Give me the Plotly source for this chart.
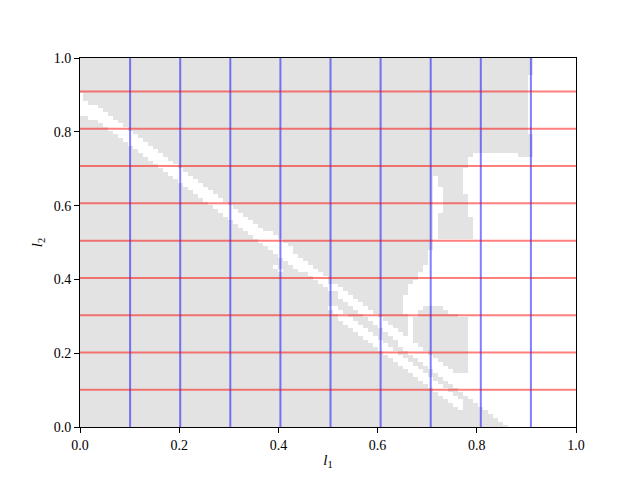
import numpy as np
import plotly.graph_objects as go

N = 100
grid = np.linspace(0, 1, N)

# ---- main diagonal white band: for each column index, white rows [lo, hi]
band_cols = list(range(0, 66))
band_lo = [84, 84, 83, 83, 82, 81, 80, 79, 78, 77,
           76, 75, 74, 73, 72, 71, 70, 69, 68, 67,
           66, 65, 64, 63, 62, 61, 60, 59, 58, 57,
           56, 55, 54, 53, 52, 51, 50, 49, 48, 47,
           46, 45, 44, 43, 42, 42, 41, 40, 39, 38,
           37, 37, 35, 34, 33, 32, 31, 30, 29, 28,
           27, 26, 25, 24, 23, 22]
band_hi = [89, 87, 86, 86, 85, 84, 83, 82, 81, 80,
           79, 78, 77, 76, 75, 74, 73, 72, 71, 70,
           69, 68, 67, 66, 65, 64, 63, 62, 61, 60,
           59, 58, 57, 56, 55, 54, 53, 52, 52, 51,
           50, 49, 48, 46, 45, 44, 43, 42, 41, 40,
           38, 38, 37, 36, 35, 34, 33, 32, 31, 30,
           29, 28, 27, 26, 25, 24]

# ---- lower white band (columns, white rows [lo, hi])
lower_cols = [39, 40, 50, 51, 52, 53, 54, 55, 56, 57, 58, 59, 60, 61, 62, 63,
              64, 65, 66, 67, 68, 69, 70, 71, 72, 73, 74, 75, 76]
lower_lo = [43, 42, 32, 31, 29, 28, 27, 26, 25, 24, 23, 22, 21, 20, 19, 18,
            17, 16, 15, 14, 13, 12, 11, 10, 9, 8, 7, 6, 5]
lower_hi = [43, 42, 32, 32, 31, 30, 29, 28, 27, 26, 25, 24, 23, 22, 21, 20,
            19, 18, 17, 16, 15, 14, 13, 12, 11, 10, 9, 8, 7]

# ---- right-hand white region: per row (bottom to top), white column intervals
right_rows = [
    [[86, 99]], [[85, 99]], [[84, 99]], [[83, 99]], [[82, 99]],          # 0-4
    [[81, 99]], [[80, 99]], [[79, 99]], [[78, 99]], [[77, 99]],          # 5-9
    [[76, 99]], [[75, 99]], [[74, 99]], [[73, 99]], [[72, 99]],          # 10-14
    [[71, 74], [78, 99]], [[70, 73], [78, 99]], [[69, 72], [78, 99]],    # 15-17
    [[68, 71], [78, 99]], [[67, 70], [78, 99]], [[66, 69], [78, 99]],    # 18-20
    [[65, 68], [78, 99]], [[64, 67], [78, 99]],                          # 21-22
    [[66, 66], [78, 99]], [[66, 66], [78, 99]], [[66, 66], [78, 99]],    # 23-25
    [[66, 66], [78, 99]], [[66, 66], [78, 99]], [[66, 66], [78, 99]],    # 26-28
    [[66, 66], [78, 99]], [[66, 67], [76, 99]], [[65, 67], [74, 99]],    # 29-31
    [[65, 68], [73, 99]], [[65, 99]], [[65, 99]], [[65, 99]],            # 32-35
    [[66, 99]], [[66, 99]], [[66, 99]], [[67, 99]],                      # 36-39
    [[68, 99]], [[68, 99]], [[69, 99]], [[69, 99]],                      # 40-43
    [[70, 99]], [[70, 99]], [[70, 99]], [[70, 99]],                      # 44-47
    [[71, 99]], [[71, 99]], [[71, 99]],                                  # 48-50
    [[71, 71], [79, 99]], [[71, 71], [79, 99]], [[71, 71], [79, 99]],    # 51-53
    [[71, 71], [79, 99]], [[71, 71], [79, 99]], [[71, 71], [79, 99]],    # 54-56
    [[71, 71], [78, 99]],                                                # 57
    [[71, 72], [78, 99]], [[71, 72], [78, 99]], [[71, 72], [78, 99]],    # 58-60
    [[71, 72], [78, 99]], [[71, 72], [78, 99]],                          # 61-62
    [[71, 72], [77, 99]], [[71, 72], [77, 99]],                          # 63-64
    [[71, 71], [77, 99]], [[71, 71], [77, 99]], [[71, 71], [77, 99]],    # 65-67
    [[77, 99]], [[77, 99]],                                              # 68-69
    [[78, 99]], [[78, 99]], [[78, 99]],                                  # 70-72
    [[79, 87], [91, 99]],                                                # 73
    [[91, 99]], [[91, 99]], [[91, 99]], [[91, 99]], [[91, 99]],          # 74-78
    [[90, 99]], [[90, 99]], [[90, 99]], [[90, 99]], [[90, 99]],          # 79-83
    [[90, 99]], [[90, 99]], [[90, 99]], [[90, 99]], [[90, 99]],          # 84-88
    [[90, 99]], [[90, 99]], [[90, 99]], [[90, 99]], [[90, 99]],          # 89-93
    [[90, 99]],                                                          # 94
    [[91, 99]], [[91, 99]], [[91, 99]], [[91, 99]], [[91, 99]],          # 95-99
]

# reference lines (indices into the grid)
v_line_idx = [10, 20, 30, 40, 50, 60, 70, 80, 90]
h_line_idx = [10, 20, 30, 40, 50, 60, 70, 80, 90]

tick_vals = [0.0, 0.2, 0.4, 0.6, 0.8, 1.0]
tick_text = ["0.0", "0.2", "0.4", "0.6", "0.8", "1.0"]

# ---- build mask (z[row][col], 1 = white)
z = np.zeros((N, N))
for c, lo, hi in zip(band_cols, band_lo, band_hi):
    z[lo:hi + 1, c] = 1
for c, lo, hi in zip(lower_cols, lower_lo, lower_hi):
    z[lo:hi + 1, c] = 1
for r, intervals in enumerate(right_rows):
    for a, b in intervals:
        z[r, a:b + 1] = 1

fig = go.Figure()
fig.add_trace(go.Heatmap(
    x=grid, y=grid, z=z, zmin=0, zmax=1,
    colorscale=[[0, "#e3e3e3"], [1, "#ffffff"]],
    showscale=False, hoverinfo="skip"))

for i in v_line_idx:
    fig.add_trace(go.Scatter(x=[grid[i], grid[i]], y=[0, 1], mode="lines",
                             line=dict(color="rgba(0,0,255,0.5)", width=2),
                             showlegend=False, hoverinfo="skip"))
for i in h_line_idx:
    fig.add_trace(go.Scatter(x=[0, 1], y=[grid[i], grid[i]], mode="lines",
                             line=dict(color="rgba(255,0,0,0.5)", width=2),
                             showlegend=False, hoverinfo="skip"))

font_family = "Liberation Serif, DejaVu Serif, serif"
axis_common = dict(range=[0, 1], showgrid=False, zeroline=False,
                   showline=True, mirror=True, linecolor="black", linewidth=1,
                   ticks="outside", ticklen=5, tickwidth=1, tickcolor="black",
                   tickvals=tick_vals, ticktext=tick_text,
                   tickfont=dict(family=font_family, size=14, color="black"))

fig.update_layout(
    width=640, height=480,
    margin=dict(l=80, r=64, t=58, b=53),
    paper_bgcolor="white", plot_bgcolor="white",
    showlegend=False,
    xaxis=dict(**axis_common,
               title=dict(text="<i>l</i><sub>1</sub>", standoff=2,
                          font=dict(family=font_family, size=15, color="black"))),
    yaxis=dict(**axis_common,
               title=dict(text="<i>l</i><sub>2</sub>", standoff=7,
                          font=dict(family=font_family, size=15, color="black"))),
)

fig.write_html("out.html")
